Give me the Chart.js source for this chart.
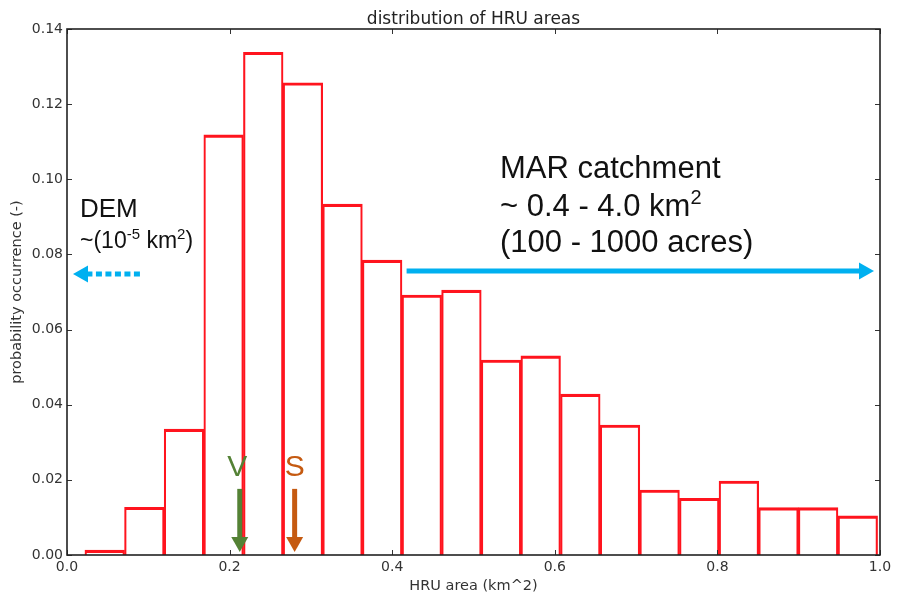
<!DOCTYPE html>
<html>
<head>
<meta charset="utf-8">
<script src="https://cdn.jsdelivr.net/npm/chart.js@4"></script>
<style>
  html, body { margin: 0; padding: 0; background: #fff; }
  #wrap { width: 898px; height: 598px; }
</style>
</head>
<body>
<div id="wrap"><canvas id="c" width="898" height="598"></canvas></div>
<script>
// ---- data ----
const binEdges = [0.0220, 0.0708, 0.1195, 0.1683, 0.2170, 0.2658, 0.3145, 0.3633, 0.4120, 0.4608,
                  0.5095, 0.5583, 0.6070, 0.6558, 0.7045, 0.7533, 0.8020, 0.8508, 0.8995, 0.9483, 0.9970];
const probabilities = [0.0013, 0.0127, 0.0335, 0.1118, 0.1338, 0.1257, 0.0934, 0.0785, 0.0692, 0.0705,
                       0.0519, 0.0530, 0.0428, 0.0346, 0.0173, 0.0151, 0.0197, 0.0126, 0.0126, 0.0104];
const xTicks = [0.0, 0.2, 0.4, 0.6, 0.8, 1.0];
const yTicks = [0.00, 0.02, 0.04, 0.06, 0.08, 0.10, 0.12, 0.14];
const chartTitle = 'distribution of HRU areas';
const xLabel = 'HRU area (km^2)';
const yLabel = 'probability occurrence (-)';

const histData = probabilities.map((p, i) => ({ x: (binEdges[i] + binEdges[i + 1]) / 2, y: p }));

const TICK_FONT = { family: 'DejaVu Sans', size: 14 };
const LABEL_FONT = { family: 'DejaVu Sans', size: 14.5 };
const ANNO_FONT = 'Liberation Sans, Arial, sans-serif';

function arrow(ctx, x1, y1, x2, y2, color, width, headLen, headHalf, dash) {
  const ang = Math.atan2(y2 - y1, x2 - x1);
  const bx = x2 - Math.cos(ang) * headLen, by = y2 - Math.sin(ang) * headLen;
  ctx.save();
  ctx.strokeStyle = color; ctx.fillStyle = color; ctx.lineWidth = width;
  ctx.setLineDash(dash || []);
  ctx.beginPath(); ctx.moveTo(x1, y1); ctx.lineTo(bx + Math.cos(ang) * 1, by + Math.sin(ang) * 1); ctx.stroke();
  ctx.setLineDash([]);
  ctx.beginPath();
  ctx.moveTo(x2, y2);
  ctx.lineTo(bx - Math.sin(ang) * headHalf, by + Math.cos(ang) * headHalf);
  ctx.lineTo(bx + Math.sin(ang) * headHalf, by - Math.cos(ang) * headHalf);
  ctx.closePath(); ctx.fill();
  ctx.restore();
}

function richText(ctx, parts, x, y, size, color) {
  ctx.save();
  ctx.fillStyle = color; ctx.textAlign = 'left'; ctx.textBaseline = 'alphabetic';
  let cx = x;
  for (const p of parts) {
    const s = p.sup ? Math.round(size * 0.65) : size;
    ctx.font = s + 'px ' + ANNO_FONT;
    ctx.fillText(p.t, cx, p.sup ? y - size * 0.38 : y);
    cx += ctx.measureText(p.t).width;
  }
  ctx.restore();
}

const framePlugin = {
  id: 'frameAndNotes',
  afterDraw(chart) {
    const { ctx, chartArea: a, scales: { x, y } } = chart;
    ctx.save();
    // inward ticks on all four sides
    ctx.strokeStyle = '#333'; ctx.lineWidth = 1;
    ctx.beginPath();
    xTicks.forEach(v => {
      const px = Math.round(x.getPixelForValue(v)) + 0.5;
      ctx.moveTo(px, a.bottom); ctx.lineTo(px, a.bottom - 5);
      ctx.moveTo(px, a.top); ctx.lineTo(px, a.top + 5);
    });
    yTicks.forEach(v => {
      const py = Math.round(y.getPixelForValue(v)) + 0.5;
      ctx.moveTo(a.left, py); ctx.lineTo(a.left + 5, py);
      ctx.moveTo(a.right, py); ctx.lineTo(a.right - 5, py);
    });
    ctx.stroke();
    // frame
    ctx.strokeStyle = '#222'; ctx.lineWidth = 1.6;
    ctx.strokeRect(a.left, a.top, a.right - a.left, a.bottom - a.top);
    ctx.restore();

    // title
    ctx.save();
    ctx.fillStyle = '#222'; ctx.font = '17px DejaVu Sans'; ctx.textAlign = 'center'; ctx.textBaseline = 'alphabetic';
    ctx.fillText(chartTitle, (a.left + a.right) / 2, 24);
    ctx.restore();

    // MAR catchment annotation
    const blue = '#00b0f0';
    arrow(ctx, x.getPixelForValue(0.4177), y.getPixelForValue(0.0756),
          x.getPixelForValue(0.9926), y.getPixelForValue(0.0756), blue, 5, 15, 8.5);
    richText(ctx, [{ t: 'MAR catchment' }], 500, 178, 31, '#111');
    richText(ctx, [{ t: '~ 0.4 - 4.0 km' }, { t: '2', sup: true }], 500, 216, 31, '#111');
    richText(ctx, [{ t: '(100 - 1000 acres)' }], 500, 252, 31, '#111');

    // DEM annotation
    arrow(ctx, x.getPixelForValue(0.0897), y.getPixelForValue(0.0748),
          x.getPixelForValue(0.0074), y.getPixelForValue(0.0748), blue, 5, 15, 8.5, [6, 3.5]);
    richText(ctx, [{ t: 'DEM' }], 80, 217, 26, '#111');
    richText(ctx, [{ t: '~(10' }, { t: '-5', sup: true }, { t: ' km' }, { t: '2', sup: true }, { t: ')' }], 80, 248, 23, '#111');

    // V and S markers
    const green = '#548235', orange = '#c55a11';
    arrow(ctx, x.getPixelForValue(0.2125), y.getPixelForValue(0.0176),
          x.getPixelForValue(0.2125), y.getPixelForValue(0.0008), green, 5, 15, 8.5);
    arrow(ctx, x.getPixelForValue(0.2800), y.getPixelForValue(0.0176),
          x.getPixelForValue(0.2800), y.getPixelForValue(0.0008), orange, 5, 15, 8.5);
    ctx.save();
    ctx.font = '30px ' + ANNO_FONT; ctx.textAlign = 'center'; ctx.textBaseline = 'alphabetic';
    ctx.fillStyle = green; ctx.fillText('V', x.getPixelForValue(0.2095), 476);
    ctx.fillStyle = orange; ctx.fillText('S', x.getPixelForValue(0.2800), 476);
    ctx.restore();
  }
};

new Chart(document.getElementById('c'), {
  type: 'bar',
  data: {
    datasets: [{
      data: histData,
      backgroundColor: 'rgba(255,255,255,0)',
      borderColor: 'rgb(255,20,30)',
      borderWidth: { top: 2.5, left: 1.5, right: 1.5, bottom: 0 },
      borderSkipped: 'start',
      barPercentage: 1.0,
      categoryPercentage: 1.0,
      grouped: false
    }]
  },
  options: {
    responsive: false,
    animation: false,
    events: [],
    layout: { padding: { top: 29, right: 18, bottom: 0, left: 0 } },
    plugins: { legend: { display: false }, tooltip: { enabled: false }, title: { display: false } },
    scales: {
      x: {
        type: 'linear', min: 0, max: 1, offset: false,
        grid: { display: false, drawTicks: false },
        border: { display: false },
        ticks: { stepSize: 0.2, padding: 4, color: '#333', font: TICK_FONT,
                 callback: v => Number(v).toFixed(1) },
        afterBuildTicks: s => { s.ticks = xTicks.map(v => ({ value: v })); },
        afterFit: s => { s.height = 43; },
        title: { display: true, text: xLabel, color: '#333', font: LABEL_FONT, padding: 3 }
      },
      y: {
        type: 'linear', min: 0, max: 0.14,
        grid: { display: false, drawTicks: false },
        border: { display: false },
        ticks: { stepSize: 0.02, padding: 4, color: '#333', font: TICK_FONT,
                 callback: v => Number(v).toFixed(2) },
        afterBuildTicks: s => { s.ticks = yTicks.map(v => ({ value: v })); },
        afterFit: s => { s.width = 67; },
        title: { display: true, text: yLabel, color: '#333', font: LABEL_FONT, padding: 9 }
      }
    }
  },
  plugins: [framePlugin]
});
</script>
</body>
</html>
